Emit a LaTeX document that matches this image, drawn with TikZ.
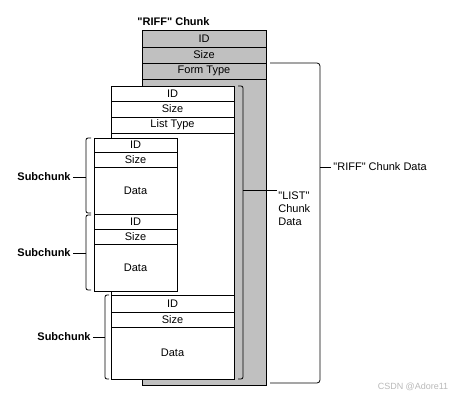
\documentclass[tikz,border=0pt]{standalone}
\usepackage{fontspec}
\setmainfont{Liberation Sans}[Ligatures=TeXOff]
\usetikzlibrary{positioning}
\definecolor{riffgray}{RGB}{192,192,192}

\tikzset{
  field/.style={draw, fill=white, inner sep=0pt, outer sep=0pt, minimum height=#1},
  riffrow/.style={field=#1, fill=riffgray, minimum width=124},
  listrow/.style={field=#1, minimum width=123},
  subrow/.style={field=#1, minimum width=83},
  bold/.style={font=\fontsize{11}{13}\selectfont\bfseries},
}

\begin{document}
\begin{tikzpicture}[x=1pt, y=-1pt, line width=0.8pt, font=\fontsize{11}{13}\selectfont]
  \useasboundingbox (0,0) rectangle (465,400);

  % "RIFF" chunk
  \node[bold, anchor=west, inner sep=0pt] (rifftitle) at (137,22) {"RIFF" Chunk};
  \draw[fill=riffgray] (142,30) rectangle (266,385);
  \node[riffrow=17, anchor=north west] (riffid) at (142,30) {ID};
  \node[riffrow=16, below=0pt of riffid] (riffsize) {Size};
  \node[riffrow=16, below=0pt of riffsize] (riffform) {Form Type};

  % "LIST" chunk
  \draw[fill=white] (111,86) rectangle (234,379);
  \node[listrow=15, anchor=north west] (listid) at (111,86) {ID};
  \node[listrow=16, below=0pt of listid] (listsize) {Size};
  \node[listrow=16, below=0pt of listsize] (listtype) {List Type};

  % subchunks
  \node[subrow=14, anchor=north west] (subAid) at (94,138) {ID};
  \node[subrow=15, below=0pt of subAid] (subAsize) {Size};
  \node[subrow=47, below=0pt of subAsize] (subAdata) {Data};

  \node[subrow=15, below=0pt of subAdata] (subBid) {ID};
  \node[subrow=15, below=0pt of subBid] (subBsize) {Size};
  \node[subrow=47, below=0pt of subBsize] (subBdata) {Data};

  \node[listrow=17, anchor=north west] (subCid) at (111,295) {ID};
  \node[listrow=15, below=0pt of subCid] (subCsize) {Size};
  \node[listrow=52, below=0pt of subCsize] (subCdata) {Data};

  % brackets
  \draw[rounded corners=3pt] (270,63) -- (320,63) -- (320,383) -- (270,383);
  \node[anchor=west, inner sep=2pt] (rifflabel) at (331,167) {"RIFF" Chunk Data};
  \draw (320,167) -- (rifflabel.west);

  \draw[rounded corners=2pt] (238,86) -- (243,86) -- (243,379) -- (238,379);
  \node[anchor=north west, align=left, inner sep=1pt] (listlabel) at (277,190) {"LIST"\\Chunk\\Data};
  \draw (243,190) -- (listlabel.north west);

  \draw[rounded corners=2pt] (91,138) -- (86,138) -- (86,213) -- (91,213);
  \node[bold, anchor=east, inner sep=2pt] (subAlabel) at (73,177) {Subchunk};
  \draw (subAlabel.east) -- (86,177);

  \draw[rounded corners=2pt] (91,215) -- (86,215) -- (86,290) -- (91,290);
  \node[bold, anchor=east, inner sep=2pt] (subBlabel) at (73,253) {Subchunk};
  \draw (subBlabel.east) -- (86,253);

  \draw[rounded corners=2pt] (109,295) -- (105,295) -- (105,379) -- (109,379);
  \node[bold, anchor=east, inner sep=2pt] (subClabel) at (93,337) {Subchunk};
  \draw (subClabel.east) -- (105,337);

  \node[text=gray!55, font=\fontsize{9}{10}\selectfont] (mark) at (413,387) {CSDN @Adore11};
\end{tikzpicture}
\end{document}
